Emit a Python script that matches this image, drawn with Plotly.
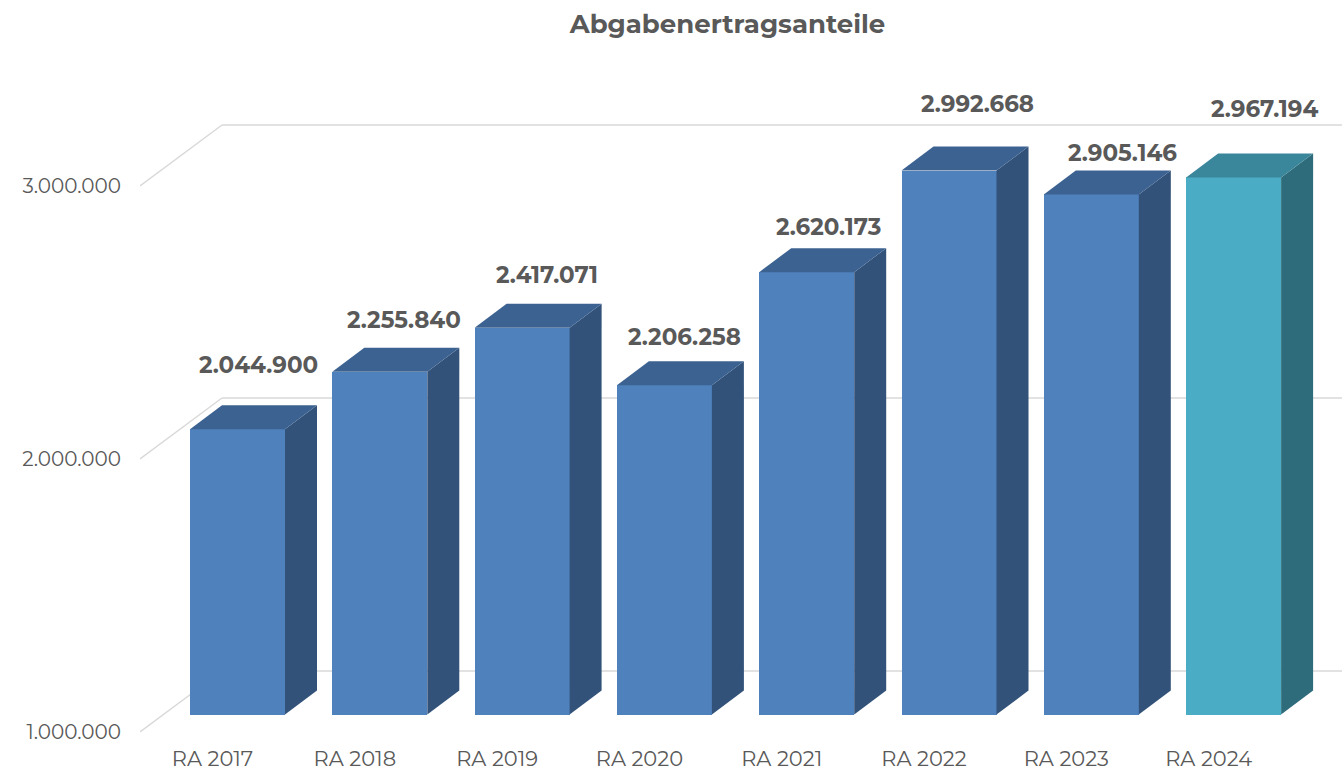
import plotly.graph_objects as go

# ---- data ----
categories = ["RA 2017", "RA 2018", "RA 2019", "RA 2020", "RA 2021", "RA 2022", "RA 2023", "RA 2024"]
values = [2044900, 2255840, 2417071, 2206258, 2620173, 2992668, 2905146, 2967194]
value_labels = ["2.044.900", "2.255.840", "2.417.071", "2.206.258", "2.620.173", "2.992.668", "2.905.146", "2.967.194"]
y_tick_values = [1000000, 2000000, 3000000]
y_tick_labels = ["1.000.000", "2.000.000", "3.000.000"]

# ---- style / geometry ----
FONT = "Montserrat, Inter, sans-serif"
TXT = "#595959"
GRID = "#D9D9D9"
front_cols = ["#4F81BD"] * 7 + ["#4BACC6"]
top_cols = ["#3C6291"] * 7 + ["#3A869A"]
side_cols = ["#325279"] * 7 + ["#2F6C7B"]

W, H = 1342, 770
ML, MR, MT, MB = 140, 0, 80, 30
PX_PER_UNIT_X = 142.3
PX_PER_M = 273.0
BAR_CENTER0 = 237.5
BAR_BOTTOM_PX = 714.5
BASE = 1000000

x_lo = (ML - BAR_CENTER0) / PX_PER_UNIT_X
x_hi = (W - MR - BAR_CENTER0) / PX_PER_UNIT_X
y_lo = BASE - (H - MB - BAR_BOTTOM_PX) / PX_PER_M * 1e6
y_hi = BASE + (BAR_BOTTOM_PX - MT) / PX_PER_M * 1e6

bar_w = 95 / PX_PER_UNIT_X
depth_dx = 32 / PX_PER_UNIT_X
depth_dy = 24 / PX_PER_M * 1e6
front_shift_y = 17.5 / PX_PER_M * 1e6     # front plane vs bar plane
back_shift_y = 43.5 / PX_PER_M * 1e6      # back wall vs bar plane
front_shift_x = 25.0 / PX_PER_UNIT_X
back_wall_x = (222 - BAR_CENTER0) / PX_PER_UNIT_X

label_xshift = [21, 24, 25, 20, 22, 28, 31, 31]
label_yshift = [64, 52, 53, 48, 45, 67, 41, 68]

fig = go.Figure()

# front faces
xs = list(range(len(categories)))
fig.add_trace(go.Bar(
    x=xs, y=[v - BASE for v in values], base=BASE, width=bar_w,
    marker=dict(color=front_cols, line=dict(width=0)),
    customdata=value_labels, hovertemplate="%{customdata}<extra></extra>",
    showlegend=False,
))

# side and top faces
for i, v in enumerate(values):
    xr = i + bar_w / 2
    xl = i - bar_w / 2
    fig.add_trace(go.Scatter(
        x=[xr, xr, xr + depth_dx, xr + depth_dx, xr],
        y=[BASE, v, v + depth_dy, BASE + depth_dy, BASE],
        fill="toself", fillcolor=side_cols[i], mode="lines",
        line=dict(width=0, color=side_cols[i]), hoverinfo="skip", showlegend=False,
    ))
    fig.add_trace(go.Scatter(
        x=[xl, xr, xr + depth_dx, xl + depth_dx, xl],
        y=[v, v, v + depth_dy, v + depth_dy, v],
        fill="toself", fillcolor=top_cols[i], mode="lines",
        line=dict(width=0, color=top_cols[i]), hoverinfo="skip", showlegend=False,
    ))
    fig.add_annotation(
        x=i, y=v, xref="x", yref="y", text="<b>%s</b>" % value_labels[i],
        showarrow=False, xshift=label_xshift[i], yshift=label_yshift[i],
        yanchor="middle", xanchor="center",
        font=dict(family=FONT, size=23, color=TXT),
    )

# dummy trace for the front-plane axes
fig.add_trace(go.Scatter(x=[None], y=[None], xaxis="x2", yaxis="y2",
                         showlegend=False, hoverinfo="skip"))

# back-wall gridlines and diagonal floor/wall edges
for tv in y_tick_values:
    fig.add_shape(type="line", xref="x", yref="y", layer="below",
                  x0=back_wall_x, x1=x_hi, y0=tv + back_shift_y, y1=tv + back_shift_y,
                  line=dict(color=GRID, width=1.5))
    fig.add_shape(type="line", xref="x", yref="y", layer="below",
                  x0=x_lo, x1=back_wall_x, y0=tv - front_shift_y, y1=tv + back_shift_y,
                  line=dict(color=GRID, width=1.5))

fig.update_layout(
    width=W, height=H,
    margin=dict(l=ML, r=MR, t=MT, b=MB, autoexpand=False),
    paper_bgcolor="white", plot_bgcolor="white",
    bargap=0,
    title=dict(text="<b>Abgabenertragsanteile</b>", x=727.5 / W, xanchor="center",
               y=1 - 24 / H, yanchor="middle", yref="container",
               font=dict(family=FONT, size=26, color=TXT)),
    xaxis=dict(range=[x_lo, x_hi], showgrid=False, zeroline=False, automargin=False,
               showticklabels=False, showline=False, fixedrange=True),
    yaxis=dict(range=[y_lo, y_hi], showgrid=False, zeroline=False, automargin=False,
               showticklabels=False, showline=False, fixedrange=True),
    xaxis2=dict(overlaying="x", anchor="y2", side="bottom", automargin=False,
                range=[x_lo + front_shift_x, x_hi + front_shift_x],
                tickvals=xs, ticktext=categories, showgrid=False, zeroline=False,
                showline=False, ticks="outside", ticklen=0, tickcolor="rgba(0,0,0,0)",
                tickfont=dict(family=FONT, size=21, color=TXT), fixedrange=True),
    yaxis2=dict(overlaying="y", anchor="x2", side="left", automargin=False,
                range=[y_lo + front_shift_y, y_hi + front_shift_y],
                tickvals=y_tick_values, ticktext=y_tick_labels, showgrid=False,
                zeroline=False, showline=False, ticks="outside", ticklen=14,
                tickcolor="rgba(0,0,0,0)",
                tickfont=dict(family=FONT, size=20, color=TXT), fixedrange=True),
)

fig.write_html("out.html", config={"displayModeBar": False},
               post_script="document.body.style.margin='0px';")
